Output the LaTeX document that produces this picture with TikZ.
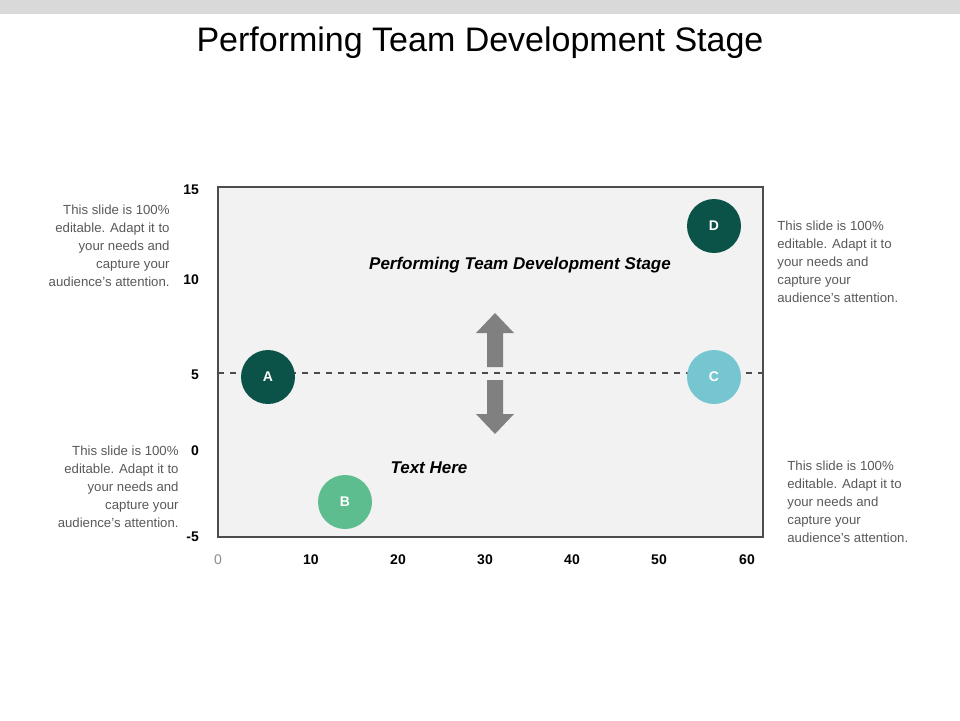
\documentclass[tikz,border=0pt]{standalone}
\usepackage{fontspec}
\setmainfont{Liberation Sans}
\begin{document}
\begin{tikzpicture}[x=0.5pt,y=-0.5pt,
  note/.style={font=\fontsize{6.6}{9}\selectfont,text=black!65,inner sep=0pt,align=#1},
  dot/.style={circle,minimum size=27pt,inner sep=0pt,text=white,font=\fontsize{7}{8}\selectfont\bfseries},
  ylab/.style={anchor=east,font=\fontsize{7}{8}\selectfont\bfseries},
  xlab/.style={anchor=center,font=\fontsize{7}{8}\selectfont\bfseries},
  bigarrow/.style={fill=black!50,draw=none}]
\useasboundingbox (0,0) rectangle (960,720);
\fill[black!15] (0,0) rectangle (960,14);
\node (title) at (480,43) {\fontsize{17}{20}\selectfont Performing Team Development Stage};
\draw[black!70,fill=black!5,line width=0.8pt] (218,187) rectangle (763,537);
\coordinate (dl) at (218,373); \coordinate (dr) at (763,373);
\draw[dashed,black!70,line width=0.6pt] (dl) -- (dr);
\node[ylab] (y15) at (206,190) {15};
\node[ylab] (y10) at (206,280) {10};
\node[ylab] (y5) at (206,375) {5};
\node[ylab] (y0) at (206,451) {0};
\node[ylab] (ym5) at (206,537) {-5};
\node[xlab,font=\fontsize{7}{8}\selectfont,text=black!45] (x0) at (218,560) {0};
\node[xlab] (x10) at (311,560) {10};
\node[xlab] (x20) at (398,560) {20};
\node[xlab] (x30) at (485,560) {30};
\node[xlab] (x40) at (572,560) {40};
\node[xlab] (x50) at (659,560) {50};
\node[xlab] (x60) at (747,560) {60};
\node[dot,fill={rgb,255:red,11;green,83;blue,73}] (A) at (268,377) {A};
\node[dot,fill={rgb,255:red,93;green,189;blue,142}] (B) at (345,502) {B};
\node[dot,fill={rgb,255:red,117;green,198;blue,209}] (C) at (714,377) {C};
\node[dot,fill={rgb,255:red,11;green,83;blue,73}] (D) at (714,226) {D};
\fill[bigarrow] (487,367) -- (487,333) -- (476,333) -- (495,313) -- (514,333) -- (503,333) -- (503,367) -- cycle;
\fill[bigarrow] (487,380) -- (487,414) -- (476,414) -- (495,434) -- (514,414) -- (503,414) -- (503,380) -- cycle;
\node (main) at (520,265) {\fontsize{8.5}{10}\selectfont\bfseries\itshape Performing Team Development Stage};
\node (th) at (429,468) {\fontsize{8.5}{10}\selectfont\bfseries\itshape Text Here};
\node[note=right,anchor=north east] (n1) at (170,205) {This slide is 100\%\\editable. Adapt it to\\your needs and\\capture your\\audience's attention.};
\node[note=left,anchor=north west] (n2) at (777,221) {This slide is 100\%\\editable. Adapt it to\\your needs and\\capture your\\audience's attention.};
\node[note=right,anchor=north east] (n3) at (179,446) {This slide is 100\%\\editable. Adapt it to\\your needs and\\capture your\\audience's attention.};
\node[note=left,anchor=north west] (n4) at (787,461) {This slide is 100\%\\editable. Adapt it to\\your needs and\\capture your\\audience's attention.};
\end{tikzpicture}
\end{document}
